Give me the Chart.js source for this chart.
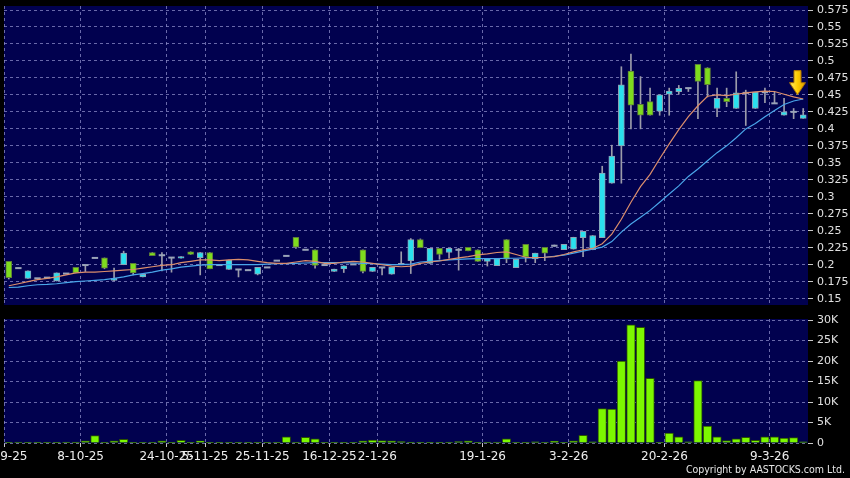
<!DOCTYPE html>
<html lang="en">
<head>
    <meta charset="UTF-8">
    <title>AASTOCKS chart</title>
    <script src="https://cdn.jsdelivr.net/npm/chart.js@4.4.1/dist/chart.umd.min.js"></script>
    <style>
        html, body { margin: 0; padding: 0; background: #000; }
        #wrap { position: relative; width: 850px; height: 478px; overflow: hidden; background: #000; }
        #priceChart { position: absolute; left: 0; top: 0; }
        #volChart { position: absolute; left: 0; top: 310px; }
        #copy { position: absolute; right: 5px; top: 463px; line-height: 13px; color: #e6e6e6;
                font-family: "DejaVu Sans Condensed", "DejaVu Sans", sans-serif; font-size: 10.5px; white-space: nowrap; }
    </style>
</head>
<body>
<div id="wrap">
    <canvas id="priceChart" width="850" height="310"></canvas>
    <canvas id="volChart" width="850" height="168"></canvas>
    <div id="copy">Copyright by AASTOCKS.com Ltd.</div>
</div>
<script>
// candles, one per trading day (index 0..83)
var opens  = [0.205,0.195,0.180,0.180,0.181,0.176,0.187,0.196,0.1995,0.210,
              0.210,0.177,0.200,0.202,0.182,0.218,0.214,0.2105,0.2095,0.219,
              0.2105,0.218,0.1995,0.193,0.193,0.192,0.186,0.196,0.206,0.213,
              0.2405,0.222,0.222,0.1995,0.190,0.194,0.2005,0.222,0.190,0.196,
              0.186,0.201,0.206,0.237,0.202,0.224,0.218,0.222,0.2255,0.222,
              0.205,0.1985,0.237,0.1955,0.230,0.2085,0.2255,0.228,0.222,0.223,
              0.240,0.222,0.240,0.320,0.375,0.485,0.436,0.440,0.426,0.451,
              0.4547,0.460,0.495,0.490,0.430,0.445,0.430,0.453,0.430,0.454,
              0.4376,0.420,0.425,0.4155];
var highs  = [0.205,0.195,0.191,0.180,0.181,0.188,0.187,0.196,0.1995,0.210,
              0.210,0.195,0.220,0.202,0.186,0.218,0.218,0.2105,0.212,0.219,
              0.218,0.218,0.1995,0.207,0.193,0.192,0.196,0.196,0.206,0.213,
              0.2405,0.222,0.222,0.1995,0.1935,0.1985,0.2005,0.222,0.196,0.196,
              0.196,0.219,0.2385,0.238,0.224,0.224,0.224,0.224,0.2255,0.222,
              0.209,0.209,0.237,0.208,0.230,0.217,0.2255,0.229,0.230,0.2405,
              0.249,0.243,0.345,0.376,0.4915,0.510,0.477,0.460,0.450,0.460,
              0.464,0.460,0.495,0.490,0.460,0.460,0.484,0.457,0.454,0.460,
              0.454,0.445,0.430,0.430];
var lows   = [0.179,0.195,0.180,0.180,0.181,0.176,0.187,0.188,0.190,0.210,
              0.194,0.176,0.200,0.185,0.182,0.2135,0.191,0.189,0.2095,0.215,
              0.185,0.194,0.1995,0.193,0.182,0.192,0.185,0.196,0.206,0.213,
              0.224,0.222,0.195,0.1995,0.190,0.1885,0.2005,0.188,0.190,0.185,
              0.186,0.201,0.187,0.225,0.202,0.208,0.2095,0.192,0.2205,0.205,
              0.198,0.1985,0.203,0.1955,0.204,0.203,0.206,0.227,0.222,0.223,
              0.2118,0.222,0.240,0.320,0.320,0.400,0.400,0.420,0.420,0.420,
              0.451,0.455,0.415,0.447,0.418,0.4327,0.430,0.405,0.430,0.4385,
              0.4376,0.420,0.415,0.4155];
var closes = [0.181,0.195,0.191,0.180,0.181,0.188,0.187,0.188,0.1995,0.210,
              0.195,0.180,0.217,0.188,0.186,0.2135,0.214,0.2105,0.212,0.215,
              0.218,0.194,0.1995,0.207,0.193,0.192,0.196,0.196,0.206,0.213,
              0.226,0.222,0.199,0.1995,0.1935,0.1985,0.2005,0.190,0.196,0.196,
              0.196,0.201,0.237,0.225,0.224,0.215,0.224,0.222,0.2205,0.205,
              0.209,0.209,0.208,0.208,0.2115,0.217,0.217,0.228,0.230,0.2405,
              0.249,0.243,0.335,0.360,0.465,0.435,0.420,0.420,0.450,0.4557,
              0.4597,0.460,0.470,0.465,0.445,0.440,0.453,0.453,0.454,0.454,
              0.4376,0.425,0.425,0.4205];

// moving averages
var maShort = [0.169,0.172,0.175,0.178,0.180,0.182,0.185,0.188,0.189,0.189,
               0.190,0.191,0.192,0.193,0.195,0.197,0.199,0.200,0.203,0.205,
               0.207,0.207,0.206,0.207,0.208,0.207,0.205,0.203,0.202,0.202,
               0.204,0.206,0.205,0.202,0.202,0.204,0.205,0.204,0.202,0.200,
               0.198,0.197,0.198,0.202,0.204,0.2055,0.208,0.210,0.212,0.2145,
               0.216,0.218,0.219,0.215,0.211,0.2105,0.211,0.212,0.215,0.219,
               0.222,0.224,0.231,0.245,0.267,0.292,0.315,0.333,0.356,0.378,
               0.399,0.418,0.434,0.448,0.450,0.449,0.451,0.453,0.4545,0.4555,
               0.455,0.451,0.447,0.444];
var maLong  = [0.1665,0.167,0.169,0.1705,0.171,0.172,0.1735,0.175,0.176,0.177,
               0.178,0.180,0.182,0.185,0.187,0.189,0.192,0.194,0.1965,0.198,
               0.1995,0.200,0.200,0.200,0.200,0.200,0.200,0.201,0.2015,0.2015,
               0.202,0.2025,0.203,0.203,0.203,0.203,0.2025,0.202,0.2015,0.201,
               0.200,0.200,0.201,0.204,0.205,0.206,0.207,0.208,0.2085,0.209,
               0.209,0.209,0.2095,0.2095,0.210,0.210,0.211,0.2125,0.214,0.217,
               0.220,0.223,0.226,0.234,0.248,0.260,0.270,0.280,0.292,0.304,
               0.316,0.330,0.341,0.353,0.365,0.375,0.387,0.400,0.408,0.418,
               0.427,0.436,0.441,0.444];

var volumes = [50,250,50,50,100,50,200,200,500,1800,
               50,500,900,50,150,50,500,50,650,50,
               550,50,100,50,50,50,50,50,50,1500,
               200,1400,1000,50,50,50,50,500,700,600,
               500,350,200,100,100,150,200,350,500,50,
               250,250,1000,50,50,300,100,450,100,500,
               1900,300,8400,8300,20000,28800,28200,15800,100,2400,
               1500,300,15200,4100,1500,600,1000,1400,650,1500,
               1500,1200,1300,300];

// x axis: date ticks sit between candles
var dateTickPos    = [-0.5, 7.5, 16.5, 20.5, 26.5, 33.5, 38.5, 49.5, 58.5, 68.5, 79.5];
var dateTickLabels = ['24-9-25','8-10-25','24-10-25','5-11-25','25-11-25','16-12-25','2-1-26','19-1-26','3-2-26','20-2-26','9-3-26'];

var priceTicks = [0.15,0.175,0.2,0.225,0.25,0.275,0.3,0.325,0.35,0.375,0.4,0.425,0.45,0.475,0.5,0.525,0.55,0.575];
var volTicks   = [0,5000,10000,15000,20000,25000,30000];

// signal arrow
var arrowX = [82.4];
var arrowY = [0.468];

Chart.defaults.font.family = '"DejaVu Sans", sans-serif';
Chart.defaults.color = '#e0e0e0';

var gridColor = 'rgba(140,140,200,0.75)';
var plotBg = {
    id: 'plotBg',
    beforeDraw: function(chart) {
        var a = chart.chartArea, ctx = chart.ctx;
        ctx.save();
        ctx.fillStyle = '#01014f';
        ctx.fillRect(a.left, a.top, a.right - a.left, a.bottom - a.top);
        ctx.restore();
    }
};

function makeArrow() {
    var c = document.createElement('canvas');
    c.width = 17; c.height = 25;
    var g = c.getContext('2d');
    var grad = g.createLinearGradient(0, 0, 17, 0);
    grad.addColorStop(0, '#fff07a');
    grad.addColorStop(0.5, '#ffcc00');
    grad.addColorStop(1, '#d89a00');
    g.beginPath();
    g.moveTo(5, 0.5); g.lineTo(12, 0.5); g.lineTo(12, 12.5); g.lineTo(16.5, 12.5);
    g.lineTo(8.5, 24.5); g.lineTo(0.5, 12.5); g.lineTo(5, 12.5); g.closePath();
    g.fillStyle = grad; g.fill();
    g.strokeStyle = '#b47800'; g.lineWidth = 1; g.stroke();
    return c;
}

function xScale(showTicks) {
    return {
        type: 'linear',
        min: -0.5,
        max: 83.5,
        offset: false,
        afterBuildTicks: function(s) { s.ticks = dateTickPos.map(function(v) { return {value: v}; }); },
        afterFit: function(s) {
            s.paddingLeft = 0; s.paddingRight = 0;
            s.height = showTicks ? 35 : 0;
        },
        grid: {
            color: gridColor, lineWidth: 1, offset: false,
            drawTicks: showTicks, tickLength: 4, tickColor: '#c8c8c8'
        },
        border: { display: false, dash: [3, 3] },
        ticks: {
            display: showTicks, autoSkip: false, maxRotation: 0, minRotation: 0,
            padding: 3, color: '#eeeeee', font: { size: 12 },
            callback: function(v, i) { return dateTickLabels[i]; }
        }
    };
}

function yScale(min, max, ticks, fmt) {
    return {
        type: 'linear',
        position: 'right',
        min: min,
        max: max,
        afterBuildTicks: function(s) { s.ticks = ticks.map(function(v) { return {value: v}; }); },
        afterFit: function(s) { s.width = 42; s.paddingTop = 0; s.paddingBottom = 0; },
        grid: { color: gridColor, lineWidth: 1, tickLength: 5, tickColor: '#c8c8c8' },
        border: { display: false, dash: [3, 3] },
        ticks: { padding: 4, color: '#e0e0e0', font: { size: 11 }, callback: fmt }
    };
}

var idx = opens.map(function(v, i) { return i; });
var upBg = '#2ae0ee', upLine = '#8fa2b4', dnBg = '#7edc1e', dnLine = '#5e7d38';

var priceChart = new Chart(document.getElementById('priceChart'), {
    type: 'bar',
    data: {
        datasets: [
            {
                type: 'line', order: 0, data: arrowX.map(function(x, i) { return {x: x, y: arrowY[i]}; }),
                showLine: false, pointStyle: makeArrow(), pointRadius: 10
            },
            {
                type: 'line', order: 1, data: idx.map(function(i) { return {x: i, y: maShort[i]}; }),
                borderColor: '#dc8e6c', borderWidth: 1.2, pointRadius: 0, tension: 0
            },
            {
                type: 'line', order: 2, data: idx.map(function(i) { return {x: i, y: maLong[i]}; }),
                borderColor: '#4aa6ea', borderWidth: 1.2, pointRadius: 0, tension: 0
            },
            {
                type: 'line', order: 3, showLine: false,
                data: idx.map(function(i) { return {x: i, y: opens[i] === closes[i] ? closes[i] : null}; }),
                pointStyle: 'line', pointRadius: 3.2, pointBorderWidth: 2, pointBorderColor: '#9aa4b8'
            },
            {
                order: 4, grouped: false, barThickness: 6,
                data: idx.map(function(i) { return {x: i, y: opens[i] === closes[i] ? null : [opens[i], closes[i]]}; }),
                backgroundColor: idx.map(function(i) { return closes[i] > opens[i] ? upBg : dnBg; }),
                borderColor: idx.map(function(i) { return closes[i] > opens[i] ? upLine : dnLine; }),
                borderWidth: 1, borderSkipped: false
            },
            {
                order: 5, grouped: false, barThickness: 1,
                data: idx.map(function(i) { return {x: i, y: [lows[i], highs[i]]}; }),
                backgroundColor: '#9c9caa', borderWidth: 0
            }
        ]
    },
    options: {
        responsive: false,
        animation: false,
        layout: { autoPadding: false, padding: { left: 4, top: 6, right: 0, bottom: 5 } },
        plugins: { legend: { display: false }, tooltip: { enabled: false } },
        scales: {
            x: xScale(false),
            y: yScale(0.1407, 0.5809, priceTicks, function(v) { return String(Number(v.toFixed(3))); })
        }
    },
    plugins: [plotBg]
});

var volChart = new Chart(document.getElementById('volChart'), {
    type: 'bar',
    data: {
        datasets: [{
            data: idx.map(function(i) { return {x: i, y: volumes[i]}; }),
            barThickness: 8.5,
            backgroundColor: '#7cf800',
            borderColor: '#2a5200',
            borderWidth: 1
        }]
    },
    options: {
        responsive: false,
        animation: false,
        layout: { autoPadding: false, padding: { left: 4, top: 9, right: 0, bottom: 0 } },
        plugins: { legend: { display: false }, tooltip: { enabled: false } },
        scales: {
            x: xScale(true),
            y: yScale(0, 30250, volTicks, function(v) { return v === 0 ? '0' : (v / 1000) + 'K'; })
        }
    },
    plugins: [plotBg]
});
</script>
</body>
</html>
